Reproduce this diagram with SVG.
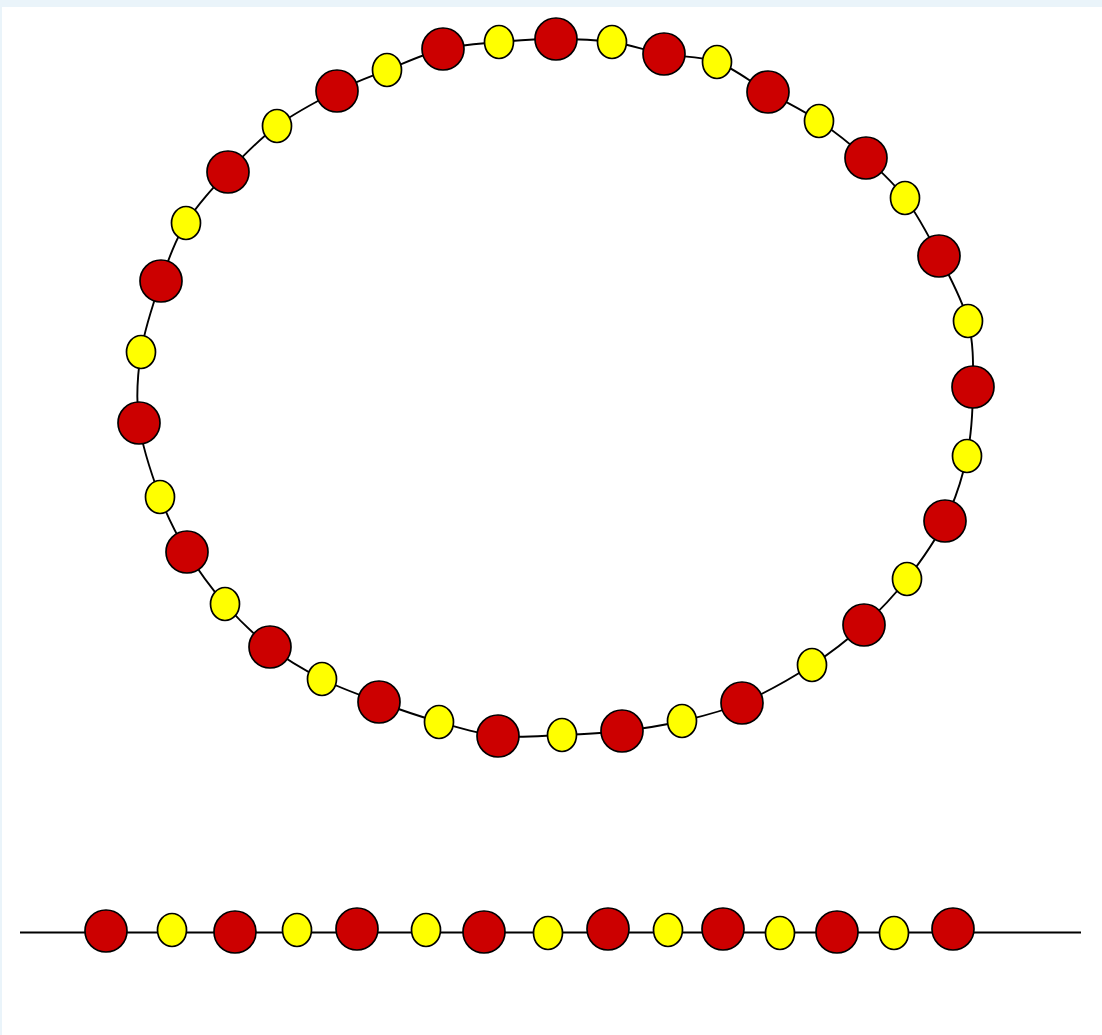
<svg xmlns="http://www.w3.org/2000/svg" width="1102" height="1035" viewBox="0 0 1102 1035">
<style>
.edge{fill:none;stroke:#000;stroke-width:1.9}
.r{fill:#cc0000;stroke:#000;stroke-width:1.7}
.y{fill:#ffff00;stroke:#000;stroke-width:1.7}
</style>
<rect x="0" y="0" width="1102" height="1035" fill="#ffffff"/>
<rect x="0" y="0" width="1102" height="7" fill="#eaf4fa"/>
<rect x="0" y="0" width="2" height="1035" fill="#eaf4fa"/>
<g id="connectors">
<path class="edge" d="M556,39 C574.8,39 594,39.5 612,42 C630,44.5 646.5,50.7 664,54 C681.5,57.3 699.7,55.7 717,62 C734.3,68.3 751,82.2 768,92 C785,101.8 802.7,110 819,121 C835.3,132 851.7,145.2 866,158 C880.3,170.8 892.8,181.7 905,198 C917.2,214.3 928.5,235.5 939,256 C949.5,276.5 962.3,299.2 968,321 C973.7,342.8 973.2,364.5 973,387 C972.8,409.5 971.7,433.7 967,456 C962.3,478.3 955,500.5 945,521 C935,541.5 920.5,561.7 907,579 C893.5,596.3 879.8,610.7 864,625 C848.2,639.3 832.3,652 812,665 C791.7,678 763.7,693.7 742,703 C720.3,712.3 702,716.3 682,721 C662,725.7 642,728.7 622,731 C602,733.3 582.7,734.2 562,735 C541.3,735.8 518.5,738.2 498,736 C477.5,733.8 458.8,727.7 439,722 C419.2,716.3 398.5,709.2 379,702 C359.5,694.8 340.2,688.2 322,679 C303.8,669.8 286.2,659.5 270,647 C253.8,634.5 238.8,619.8 225,604 C211.2,588.2 197.8,569.8 187,552 C176.2,534.2 168,518.5 160,497 C152,475.5 142.2,447.2 139,423 C135.8,398.8 137.3,375.7 141,352 C144.7,328.3 153.5,302.5 161,281 C168.5,259.5 174.8,241.2 186,223 C197.2,204.8 212.8,188.2 228,172 C243.2,155.8 258.8,139.5 277,126 C295.2,112.5 318.7,100.3 337,91 C355.3,81.7 369.3,77 387,70 C404.7,63 424.3,53.7 443,49 C461.7,44.3 480.2,43.7 499,42 C517.8,40.3 537.2,39 556,39 Z"/>
<line class="edge" x1="20" y1="932.5" x2="1081" y2="932.5"/>
</g>
<g id="ring">
<g id="r1"><circle class="r" cx="556" cy="39" r="21"/></g>
<g id="y1"><ellipse class="y" cx="612" cy="42" rx="14.5" ry="16.5"/></g>
<g id="r2"><circle class="r" cx="664" cy="54" r="21"/></g>
<g id="y2"><ellipse class="y" cx="717" cy="62" rx="14.5" ry="16.5"/></g>
<g id="r3"><circle class="r" cx="768" cy="92" r="21"/></g>
<g id="y3"><ellipse class="y" cx="819" cy="121" rx="14.5" ry="16.5"/></g>
<g id="r4"><circle class="r" cx="866" cy="158" r="21"/></g>
<g id="y4"><ellipse class="y" cx="905" cy="198" rx="14.5" ry="16.5"/></g>
<g id="r5"><circle class="r" cx="939" cy="256" r="21"/></g>
<g id="y5"><ellipse class="y" cx="968" cy="321" rx="14.5" ry="16.5"/></g>
<g id="r6"><circle class="r" cx="973" cy="387" r="21"/></g>
<g id="y6"><ellipse class="y" cx="967" cy="456" rx="14.5" ry="16.5"/></g>
<g id="r7"><circle class="r" cx="945" cy="521" r="21"/></g>
<g id="y7"><ellipse class="y" cx="907" cy="579" rx="14.5" ry="16.5"/></g>
<g id="r8"><circle class="r" cx="864" cy="625" r="21"/></g>
<g id="y8"><ellipse class="y" cx="812" cy="665" rx="14.5" ry="16.5"/></g>
<g id="r9"><circle class="r" cx="742" cy="703" r="21"/></g>
<g id="y9"><ellipse class="y" cx="682" cy="721" rx="14.5" ry="16.5"/></g>
<g id="r10"><circle class="r" cx="622" cy="731" r="21"/></g>
<g id="y10"><ellipse class="y" cx="562" cy="735" rx="14.5" ry="16.5"/></g>
<g id="r11"><circle class="r" cx="498" cy="736" r="21"/></g>
<g id="y11"><ellipse class="y" cx="439" cy="722" rx="14.5" ry="16.5"/></g>
<g id="r12"><circle class="r" cx="379" cy="702" r="21"/></g>
<g id="y12"><ellipse class="y" cx="322" cy="679" rx="14.5" ry="16.5"/></g>
<g id="r13"><circle class="r" cx="270" cy="647" r="21"/></g>
<g id="y13"><ellipse class="y" cx="225" cy="604" rx="14.5" ry="16.5"/></g>
<g id="r14"><circle class="r" cx="187" cy="552" r="21"/></g>
<g id="y14"><ellipse class="y" cx="160" cy="497" rx="14.5" ry="16.5"/></g>
<g id="r15"><circle class="r" cx="139" cy="423" r="21"/></g>
<g id="y15"><ellipse class="y" cx="141" cy="352" rx="14.5" ry="16.5"/></g>
<g id="r16"><circle class="r" cx="161" cy="281" r="21"/></g>
<g id="y16"><ellipse class="y" cx="186" cy="223" rx="14.5" ry="16.5"/></g>
<g id="r17"><circle class="r" cx="228" cy="172" r="21"/></g>
<g id="y17"><ellipse class="y" cx="277" cy="126" rx="14.5" ry="16.5"/></g>
<g id="r18"><circle class="r" cx="337" cy="91" r="21"/></g>
<g id="y18"><ellipse class="y" cx="387" cy="70" rx="14.5" ry="16.5"/></g>
<g id="r19"><circle class="r" cx="443" cy="49" r="21"/></g>
<g id="y19"><ellipse class="y" cx="499" cy="42" rx="14.5" ry="16.5"/></g>
</g>
<g id="chain">
<g id="c1"><circle class="r" cx="106" cy="931" r="21"/></g>
<g id="c2"><ellipse class="y" cx="172" cy="930" rx="14.5" ry="16.5"/></g>
<g id="c3"><circle class="r" cx="235" cy="932" r="21"/></g>
<g id="c4"><ellipse class="y" cx="297" cy="930" rx="14.5" ry="16.5"/></g>
<g id="c5"><circle class="r" cx="357" cy="929" r="21"/></g>
<g id="c6"><ellipse class="y" cx="426" cy="930" rx="14.5" ry="16.5"/></g>
<g id="c7"><circle class="r" cx="484" cy="932" r="21"/></g>
<g id="c8"><ellipse class="y" cx="548" cy="933" rx="14.5" ry="16.5"/></g>
<g id="c9"><circle class="r" cx="608" cy="929" r="21"/></g>
<g id="c10"><ellipse class="y" cx="668" cy="930" rx="14.5" ry="16.5"/></g>
<g id="c11"><circle class="r" cx="723" cy="929" r="21"/></g>
<g id="c12"><ellipse class="y" cx="780" cy="933" rx="14.5" ry="16.5"/></g>
<g id="c13"><circle class="r" cx="837" cy="932" r="21"/></g>
<g id="c14"><ellipse class="y" cx="894" cy="933" rx="14.5" ry="16.5"/></g>
<g id="c15"><circle class="r" cx="953" cy="929" r="21"/></g>
</g>
</svg>
